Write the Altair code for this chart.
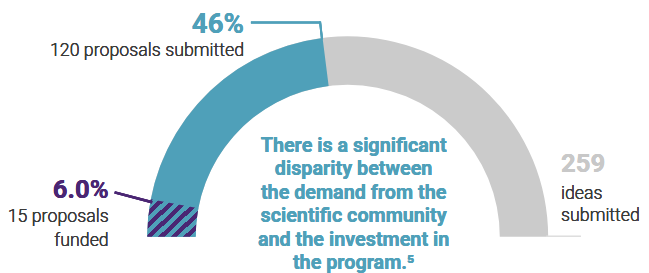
import math
import altair as alt
import pandas as pd

# ---- data ----
categories = ["ideas submitted", "proposals submitted", "proposals funded"]
counts = [259, 120, 15]
shares = [100, 46, 6.0]          # percent of ideas
share_labels = ["259", "46%", "6.0%"]

BLUE = "#4fa0b9"
GRAY = "#cbcbcb"
PURPLE = "#4a2673"
TEXT = "#3a3a3a"
FONT = "Roboto"

df = pd.DataFrame({
    "category": categories,
    "count": counts,
    "start": [0.0] * 3,
    "end": shares,
})

W, H = 641, 265
CX, CY = 344, 230
R_OUT, R_IN = 203, 154

theta_scale = alt.Scale(domain=[0, 100], range=[-math.pi / 2, math.pi / 2])

base = alt.Chart(df)

arcs = base.transform_filter(alt.datum.category != "proposals funded").mark_arc(
    radius=R_OUT, radius2=R_IN, x=CX, y=CY, strokeWidth=0
).encode(
    theta=alt.Theta("start:Q", scale=theta_scale),
    theta2="end:Q",
    color=alt.Color("category:N",
                    scale=alt.Scale(domain=categories[:2], range=[GRAY, BLUE]),
                    legend=None),
    order=alt.Order("count:Q", sort="descending"),
)

# hatched purple segment via hard-stop linear gradient
n_periods = 6.5
stops = []
k = 0
while k / n_periods < 1:
    a = k / n_periods
    b = min((k + 0.5) / n_periods, 1)
    c = min((k + 1) / n_periods, 1)
    stops += [
        alt.GradientStop(offset=a, color=PURPLE),
        alt.GradientStop(offset=b, color=PURPLE),
        alt.GradientStop(offset=b, color=BLUE),
        alt.GradientStop(offset=c, color=BLUE),
    ]
    k += 1
hatch = base.transform_filter(alt.datum.category == "proposals funded").mark_arc(
    radius=R_OUT, radius2=R_IN, x=CX, y=CY, strokeWidth=0,
    color=alt.LinearGradient(gradient="linear", stops=stops,
                             x1=0, y1=0, x2=1, y2=0.77),
).encode(
    theta=alt.Theta("start:Q", scale=theta_scale),
    theta2="end:Q",
)

# leader lines
lead_blue1 = alt.Chart(df).mark_rule(color=BLUE, strokeWidth=2).encode(
    x=alt.value(246), x2=alt.value(316), y=alt.value(13), y2=alt.value(13))
lead_blue2 = alt.Chart(df).mark_rule(color=BLUE, strokeWidth=2).encode(
    x=alt.value(316), x2=alt.value(318), y=alt.value(12), y2=alt.value(30))
lead_purple = alt.Chart(df).mark_rule(color=PURPLE, strokeWidth=2.5).encode(
    x=alt.value(108), x2=alt.value(146), y=alt.value(185), y2=alt.value(195))
base_line = alt.Chart(df).mark_rule(color="#dddddd", strokeWidth=1).encode(
    x=alt.value(545), x2=alt.value(580), y=alt.value(229.5), y2=alt.value(229.5))

def txt(text, x, y, size, color, weight=300, align="left", lh=None):
    kw = dict(x=x, y=y, fontSize=size, color=color, fontWeight=weight,
              align=align, baseline="alphabetic", font=FONT)
    if lh:
        kw["lineHeight"] = lh
    return alt.Chart(df).mark_text(**kw).encode(text=alt.value(text))

texts = [
    txt(share_labels[1], 239, 24, 28, BLUE, "bold", "right"),
    txt("120 proposals submitted", 239, 47, 18, TEXT, 300, "right"),
    txt(share_labels[2], 102, 191, 26, PURPLE, "bold", "right"),
    txt(["15 proposals", "funded"], 102, 215, 18, TEXT, 300, "right", 24.5),
    txt(share_labels[0], 560, 164, 26, "#c8c8c8", "bold", "left"),
    txt(["ideas", "submitted"], 560, 192, 18, TEXT, 300, "left", 22),
    txt(["There is a significant", "disparity between", "the demand from the",
         "scientific community", "and the investment in", "the program.\u2075"],
        350, 144, 20, BLUE, "bold", "center", 23.8),
]

chart = alt.layer(arcs, hatch, lead_blue1, lead_blue2, lead_purple, base_line, *texts).properties(
    width=W, height=H, padding=0, autosize=alt.AutoSizeParams(type="none")
).configure_view(stroke=None)

chart.save("out.html", embed_options={"renderer": "svg", "actions": False})
